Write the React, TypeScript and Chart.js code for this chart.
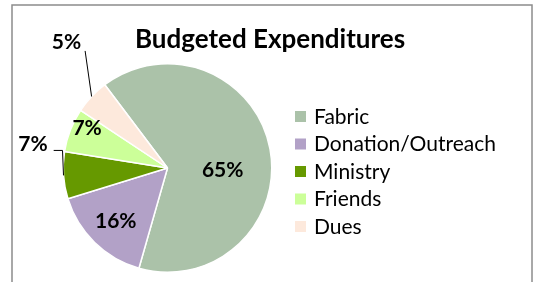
import React, { useEffect, useRef } from "react";
import { Chart, registerables } from "chart.js";

Chart.register(...registerables);

const categories = ["Fabric", "Donation/Outreach", "Ministry", "Friends", "Dues"];
const values = [64.7, 15.8, 7.3, 6.8, 5.4];
const sliceColors = ["#abc2a9", "#b2a1c7", "#669900", "#ccff99", "#fde9dc"];
const titleText = "Budgeted Expenditures";

const FONT = "Lato, 'Open Sans', sans-serif";

// label placement relative to each slice: radius factor, angle offset (deg); outside labels get leader lines
const labelPlacement = [
  { f: 0.53, da: 13, outside: false },
  { f: 0.71, da: 0, outside: false },
  { f: 1.31, da: 14, outside: true },
  { f: 0.86, da: 5, outside: false },
  { f: 1.55, da: 8, outside: true },
];

const decorPlugin = {
  id: "decor",
  beforeDraw(chart: any) {
    const ctx = chart.ctx;
    ctx.save();
    ctx.fillStyle = "#ffffff";
    ctx.fillRect(0, 0, chart.width, chart.height);
    ctx.strokeStyle = "#8c8c8c";
    ctx.lineWidth = 1.5;
    ctx.strokeRect(12, 5, 520, 300);
    ctx.restore();
  },
  afterDraw(chart: any) {
    const ctx = chart.ctx;
    const meta = chart.getDatasetMeta(0);
    const total = values.reduce((a, b) => a + b, 0);
    ctx.save();
    // title
    ctx.fillStyle = "#000";
    ctx.font = `bold 26px ${FONT}`;
    ctx.textAlign = "center";
    ctx.textBaseline = "alphabetic";
    ctx.fillText(titleText, 270, 48);

    // legend
    ctx.font = `21px ${FONT}`;
    ctx.textAlign = "left";
    categories.forEach((c, i) => {
      const cy = 117 + i * 27.5;
      ctx.fillStyle = sliceColors[i];
      ctx.fillRect(295, cy - 6, 11, 11);
      ctx.fillStyle = "#000";
      ctx.textBaseline = "middle";
      ctx.fillText(c, 314, cy);
    });

    // data labels
    ctx.font = `bold 21px ${FONT}`;
    meta.data.forEach((arc: any, i: number) => {
      const { x, y, startAngle, endAngle, outerRadius } = arc.getProps(
        ["x", "y", "startAngle", "endAngle", "outerRadius"],
        true
      );
      const mid = (startAngle + endAngle) / 2;
      const p = labelPlacement[i];
      const a = mid + (p.da * Math.PI) / 180;
      const lx = x + Math.cos(a) * outerRadius * p.f;
      const ly = y + Math.sin(a) * outerRadius * p.f;
      const txt = Math.round((values[i] / total) * 100) + "%";
      ctx.fillStyle = "#000";
      ctx.textAlign = "center";
      ctx.textBaseline = "middle";
      ctx.fillText(txt, lx, ly);
      if (p.outside) {
        const ex = x + Math.cos(mid) * outerRadius;
        const ey = y + Math.sin(mid) * outerRadius;
        ctx.strokeStyle = "#000";
        ctx.lineWidth = 1;
        ctx.beginPath();
        const w = ctx.measureText(txt).width;
        if (i === 2) {
          ctx.moveTo(lx + w / 2 + 6, ly + 6);
          ctx.lineTo(ex - 1, ly + 6);
          ctx.lineTo(ex, ey);
        } else {
          ctx.moveTo(lx + w / 2 + 4, ly + 9);
          ctx.lineTo(ex, ey);
        }
        ctx.stroke();
      }
    });
    ctx.restore();
  },
};

export default function App() {
  const ref = useRef<HTMLCanvasElement>(null);
  useEffect(() => {
    if (!ref.current) return;
    const chart = new Chart(ref.current, {
      type: "pie",
      data: {
        labels: categories,
        datasets: [
          {
            data: values,
            backgroundColor: sliceColors,
            borderColor: "#ffffff",
            borderWidth: 1.5,
          },
        ],
      },
      options: {
        responsive: false,
        animation: false,
        rotation: -37,
        layout: { padding: { left: 62, top: 63, right: 262, bottom: 9 } },
        plugins: {
          legend: { display: false },
          title: { display: false },
          tooltip: { enabled: false },
        },
      },
      plugins: [decorPlugin],
    });
    return () => chart.destroy();
  }, []);
  return (
    <div style={{ position: "absolute", left: 0, top: 0, width: 535, height: 282 }}>
      <canvas ref={ref} width={535} height={282} style={{ display: "block" }} />
    </div>
  );
}
